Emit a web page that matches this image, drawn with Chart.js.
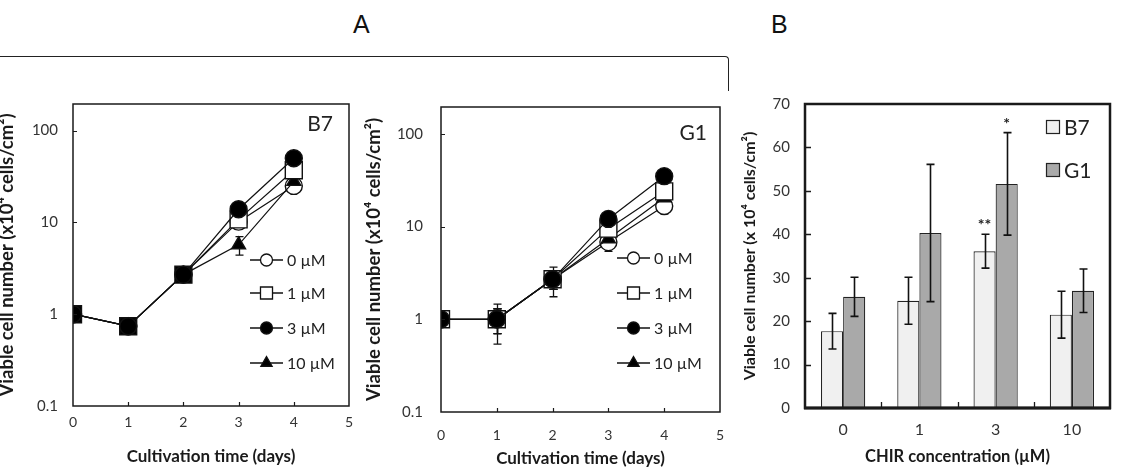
<!DOCTYPE html>
<html>
<head>
<meta charset="utf-8">
<script src="https://cdn.jsdelivr.net/npm/chart.js@4.4.1/dist/chart.umd.min.js"></script>
<style>
  body { margin: 0; background: #fff; width: 1122px; height: 469px; overflow: hidden; position: relative; }
  canvas { position: absolute; }
  .lbl { position: absolute; font-family: "Liberation Sans", sans-serif; font-size: 25px; line-height: 1; color: #111; }
  #bracket { position: absolute; left: -2px; top: 56px; width: 730px; height: 34px; border-top: 1.5px solid #222; border-right: 1.5px solid #222; border-top-right-radius: 4px; }
</style>
</head>
<body>
<div class="lbl" style="left:353px;top:12px">A</div>
<div class="lbl" style="left:771px;top:12px">B</div>
<div id="bracket"></div>
<canvas id="c1" width="370" height="389" style="left:-6px;top:80px"></canvas>
<canvas id="c2" width="380" height="389" style="left:360px;top:80px"></canvas>
<canvas id="c3" width="392" height="389" style="left:730px;top:80px"></canvas>
<script>
// --- data (A: growth curves, log scale) ---
const days = [0, 1, 2, 3, 4];
const doseLabels = ['0 µM', '1 µM', '3 µM', '10 µM'];
const logTicks = [0.1, 1, 10, 100];

const b7_0 = [1, 0.74, 2.7, 10.2, 25];
const b7_1 = [1, 0.74, 2.7, 10.8, 37];
const b7_3 = [1, 0.74, 2.7, 13.9, 50];
const b7_10 = [1, 0.74, 2.7, 5.7, 28];
const b7_err0 = [0, 0.04, 0.2, 1.0, 3.5];
const b7_err1 = [0, 0.04, 0.2, 1.2, 4];
const b7_err3 = [0, 0.04, 0.2, 2.0, 5];
const b7_err10 = [0, 0.04, 0.2, 1.3, 3];

const g1_0 = [1, 1.0, 2.7, 6.8, 16.7];
const g1_1 = [1, 1.0, 2.7, 9.5, 24];
const g1_3 = [1, 1.0, 2.7, 12.1, 35];
const g1_10 = [1, 1.0, 2.7, 7.4, 20.5];
const g1_err0 = [0, 0.46, 0.95, 1.4, 3.0];
const g1_err1 = [0, 0.3, 0.6, 1.2, 4];
const g1_err3 = [0, 0.3, 0.6, 1.5, 4];
const g1_err10 = [0, 0.3, 0.6, 1.2, 2.5];

// --- data (B: day-4 cell number, bars) ---
const concs = ['0', '1', '3', '10'];
const b7Mean = [17.7, 24.7, 36.1, 21.5];
const b7Sd = [4.1, 5.4, 3.9, 5.4];
const g1Mean = [25.6, 40.3, 51.6, 27.0];
const g1Sd = [4.5, 15.8, 11.8, 5.0];
const b7Sig = ['', '', '**', ''];
const g1Sig = ['', '', '*', ''];

const FONT = 'Lato, "Noto Sans", sans-serif';
const INK = '#1a1a1a';

const pts = vals => vals.map((v, i) => ({ x: days[i], y: v }));

// frame + inward tick marks
const boxTicks = {
  id: 'boxTicks',
  afterDraw(chart) {
    const o = chart.options.plugins.boxTicks;
    const { ctx, chartArea: a, scales } = chart;
    ctx.save();
    ctx.strokeStyle = INK;
    ctx.lineWidth = o.tickWidth;
    ctx.beginPath();
    o.xTicks.forEach(px => {
      const x = Math.round(px(scales.x)) + 0.5;
      ctx.moveTo(x, a.bottom); ctx.lineTo(x, a.bottom - o.len);
    });
    o.yTicks.forEach(v => {
      const y = Math.round(scales.y.getPixelForValue(v)) + 0.5;
      ctx.moveTo(a.left, y); ctx.lineTo(a.left + o.len, y);
    });
    ctx.stroke();
    ctx.lineWidth = o.frame;
    ctx.strokeRect(a.left, a.top, a.right - a.left, a.bottom - a.top);
    if (o.axisExtra) {
      ctx.lineWidth = o.axisExtra;
      ctx.beginPath();
      ctx.moveTo(a.left - 1, a.bottom); ctx.lineTo(a.right + 1, a.bottom);
      ctx.stroke();
    }
    ctx.restore();
  }
};

// error bars from dataset.err
const errorBars = {
  id: 'errorBars',
  draw(chart) {
    const o = chart.options.plugins.errorBars;
    const { ctx } = chart;
    ctx.save();
    ctx.strokeStyle = '#111';
    ctx.lineWidth = o.width;
    chart.data.datasets.forEach((ds, i) => {
      if (!ds.err) return;
      const meta = chart.getDatasetMeta(i);
      const ys = chart.scales[meta.yAxisID];
      meta.data.forEach((el, j) => {
        const e = ds.err[j];
        if (!e) return;
        const d = ds.data[j];
        const v = typeof d === 'object' ? d.y : d;
        const yHi = ys.getPixelForValue(v + e);
        const yLo = ys.getPixelForValue(Math.max(v - e, ys.min));
        const x = Math.round(el.x) + 0.5;
        ctx.beginPath();
        ctx.moveTo(x, yHi); ctx.lineTo(x, yLo);
        ctx.moveTo(x - o.cap, yHi); ctx.lineTo(x + o.cap, yHi);
        ctx.moveTo(x - o.cap, yLo); ctx.lineTo(x + o.cap, yLo);
        ctx.stroke();
      });
    });
    ctx.restore();
  }
};
const errorBehind = { id: 'errorBehind', beforeDatasetsDraw: c => errorBars.draw(c) };
const errorFront = { id: 'errorFront', afterDatasetsDraw: c => errorBars.draw(c) };

// in-plot legend with line + marker, and the panel tag (B7 / G1)
const lineLegend = {
  id: 'lineLegend',
  afterDraw(chart) {
    const o = chart.options.plugins.lineLegend;
    const { ctx } = chart;
    ctx.save();
    chart.data.datasets.slice().sort((a, b) => a.legendIndex - b.legendIndex).forEach((ds, k) => {
      const y = o.ys[k];
      ctx.strokeStyle = '#111';
      ctx.lineWidth = 1.3;
      ctx.beginPath(); ctx.moveTo(o.x0, y); ctx.lineTo(o.x1, y); ctx.stroke();
      ctx.fillStyle = ds.legendFill;
      ctx.strokeStyle = '#111';
      ctx.lineWidth = 1.3;
      Chart.helpers.drawPoint(ctx, { pointStyle: ds.pointStyle, radius: ds.legendRadius, rotation: 0, borderWidth: 1.3 }, (o.x0 + o.x1) / 2, y);
      ctx.fillStyle = '#222';
      ctx.font = '16px ' + FONT;
      ctx.textBaseline = 'middle';
      ctx.textAlign = 'left';
      ctx.fillText(ds.label, o.tx, y + 1);
    });
    ctx.font = '21px ' + FONT;
    ctx.fillStyle = '#222';
    ctx.textAlign = 'right';
    ctx.textBaseline = 'middle';
    ctx.fillText(o.tag, o.tagX, o.tagY);
    ctx.restore();
  }
};

function lineSets(v0, v1, v3, v10, e0, e1, e3, e10, squareFill) {
  // dataset 0 is painted last in Chart.js, so the 3 µM circles end up on top
  return [
    { label: doseLabels[2], legendIndex: 2, data: pts(v3), err: e3, pointStyle: 'circle', pointRadius: 8.5,
      pointBackgroundColor: '#000', legendFill: '#000', legendRadius: 6 },
    { label: doseLabels[1], legendIndex: 1, data: pts(v1), err: e1, pointStyle: 'rect', pointRadius: 12,
      pointBackgroundColor: squareFill, legendFill: '#fff', legendRadius: 8.5 },
    { label: doseLabels[3], legendIndex: 3, data: pts(v10), err: e10, pointStyle: 'triangle', pointRadius: 8,
      pointBackgroundColor: '#000', legendFill: '#000', legendRadius: 6.5 },
    { label: doseLabels[0], legendIndex: 0, data: pts(v0), err: e0, pointStyle: 'circle', pointRadius: 8.5,
      pointBackgroundColor: '#fff', legendFill: '#fff', legendRadius: 6 }
  ].map(d => Object.assign(d, { borderColor: '#111', borderWidth: 1.2, pointBorderColor: '#111', pointBorderWidth: 1.4, tension: 0, fill: false }));
}

function lineOptions(p) {
  return {
    responsive: false,
    animation: false,
    events: [],
    layout: { padding: { top: p.top, right: p.right, left: 0, bottom: 0 } },
    scales: {
      x: {
        type: 'linear', min: 0, max: 5,
        ticks: { stepSize: 1, padding: p.xPad, color: '#333', font: { family: FONT, size: 14 } },
        grid: { display: false, drawTicks: false },
        border: { display: false },
        title: { display: true, text: 'Cultivation time (days)', color: INK, font: { family: FONT, size: 17, weight: 'bold' }, padding: { top: 0, bottom: p.xtPad } },
        afterFit: s => { s.height = p.xh; }
      },
      y: {
        type: 'logarithmic', min: 0.1, max: 195,
        afterBuildTicks: s => { s.ticks = logTicks.map(v => ({ value: v })); },
        ticks: { padding: p.yPad, color: '#333', font: { family: FONT, size: 15 }, callback: v => String(v) },
        grid: { display: false, drawTicks: false },
        border: { display: false },
        title: { display: true, text: 'Viable cell number (x10⁴ cells/cm²)', color: INK, font: { family: FONT, size: 18.5, weight: 'bold' }, padding: { top: p.ytPad, bottom: 0 } },
        afterFit: s => { s.width = p.yw; }
      }
    },
    plugins: {
      legend: { display: false },
      tooltip: { enabled: false },
      boxTicks: { len: 4, tickWidth: 1.2, frame: 1.5, xTicks: [1, 2, 3, 4].map(v => s => s.getPixelForValue(v)), yTicks: [1, 10, 100] },
      errorBars: { width: 1.3, cap: 4 },
      lineLegend: p.legend
    }
  };
}

new Chart(document.getElementById('c1'), {
  type: 'line',
  data: { datasets: lineSets(b7_0, b7_1, b7_3, b7_10, b7_err0, b7_err1, b7_err3, b7_err10, ['#000', '#000', '#000', '#fff', '#fff']) },
  options: lineOptions({ top: 20, right: 15, yw: 79, xh: 63, xPad: 8, yPad: 15, xtPad: 2, ytPad: 1.5,
    legend: { x0: 256, x1: 289, tx: 293, ys: [180, 213, 248, 283], tag: 'B7', tagX: 339, tagY: 44 } }),
  plugins: [errorBehind, boxTicks, lineLegend]
});

new Chart(document.getElementById('c2'), {
  type: 'line',
  data: { datasets: lineSets(g1_0, g1_1, g1_3, g1_10, g1_err0, g1_err1, g1_err3, g1_err10, '#fff') },
  options: lineOptions({ top: 22, right: 20, yw: 81, xh: 57, xPad: 15, yPad: 18, xtPad: 0, ytPad: 3,
    legend: { x0: 257, x1: 290, tx: 294, ys: [178, 213, 248, 283], tag: 'G1', tagX: 347, tagY: 53 } }),
  plugins: [errorBehind, boxTicks, lineLegend]
});

// --- B: bars ---
const barExtras = {
  id: 'barExtras',
  afterDraw(chart) {
    const o = chart.options.plugins.barExtras;
    const { ctx } = chart;
    ctx.save();
    // significance marks above the error bars
    ctx.fillStyle = '#222';
    ctx.font = 'bold 16px ' + FONT;
    ctx.textAlign = 'center';
    ctx.textBaseline = 'middle';
    chart.data.datasets.forEach((ds, i) => {
      const meta = chart.getDatasetMeta(i);
      meta.data.forEach((el, j) => {
        if (!ds.sig[j]) return;
        const y = chart.scales.y.getPixelForValue(ds.data[j] + ds.err[j]);
        ctx.fillText(ds.sig[j], el.x, y - 9);
      });
    });
    // legend boxes
    chart.data.datasets.forEach((ds, i) => {
      const y = o.ys[i];
      ctx.fillStyle = ds.backgroundColor;
      ctx.fillRect(o.bx, y - 7, 14, 14);
      ctx.strokeStyle = '#222';
      ctx.lineWidth = 1.2;
      ctx.strokeRect(o.bx + 0.5, y - 6.5, 13, 13);
      ctx.fillStyle = '#222';
      ctx.font = '21px ' + FONT;
      ctx.textAlign = 'left';
      ctx.fillText(ds.label, o.tx, y + 1);
    });
    ctx.restore();
  }
};

new Chart(document.getElementById('c3'), {
  type: 'bar',
  data: {
    labels: concs,
    datasets: [
      { label: 'B7', data: b7Mean, err: b7Sd, sig: b7Sig, backgroundColor: '#f0f0f0', borderColor: '#222', borderWidth: 1.2 },
      { label: 'G1', data: g1Mean, err: g1Sd, sig: g1Sig, backgroundColor: '#a9a9a9', borderColor: '#222', borderWidth: 1.2 }
    ]
  },
  options: {
    responsive: false,
    animation: false,
    events: [],
    layout: { padding: { top: 18, right: 12, left: 0, bottom: 0 } },
    datasets: { bar: { barPercentage: 1, categoryPercentage: 0.58 } },
    scales: {
      x: {
        ticks: { padding: 12, color: '#333', font: { family: FONT, size: 16 } },
        grid: { display: false, drawTicks: false },
        border: { display: false },
        title: { display: true, text: 'CHIR concentration (µM)', color: INK, font: { family: FONT, size: 16.5, weight: 'bold' }, padding: { top: 0, bottom: 2 } },
        afterFit: s => { s.height = 61; }
      },
      y: {
        min: 0, max: 70,
        ticks: { stepSize: 10, padding: 15, color: '#333', font: { family: FONT, size: 15 } },
        grid: { display: false, drawTicks: false },
        border: { display: false },
        title: { display: true, text: 'Viable cell number (x 10⁴ cells/cm²)', color: INK, font: { family: FONT, size: 16, weight: 'bold' }, padding: { top: 10, bottom: 0 } },
        afterFit: s => { s.width = 75; }
      }
    },
    plugins: {
      legend: { display: false },
      tooltip: { enabled: false },
      boxTicks: {
        len: 6, tickWidth: 1.3, frame: 2.5, axisExtra: 3,
        xTicks: [1, 2, 3].map(i => s => (s.getPixelForTick(i - 1) + s.getPixelForTick(i)) / 2),
        yTicks: [10, 20, 30, 40, 50, 60]
      },
      errorBars: { width: 1.6, cap: 4 },
      barExtras: { bx: 316, tx: 334, ys: [47, 90] }
    }
  },
  plugins: [errorFront, boxTicks, barExtras]
});
</script>
</body>
</html>
